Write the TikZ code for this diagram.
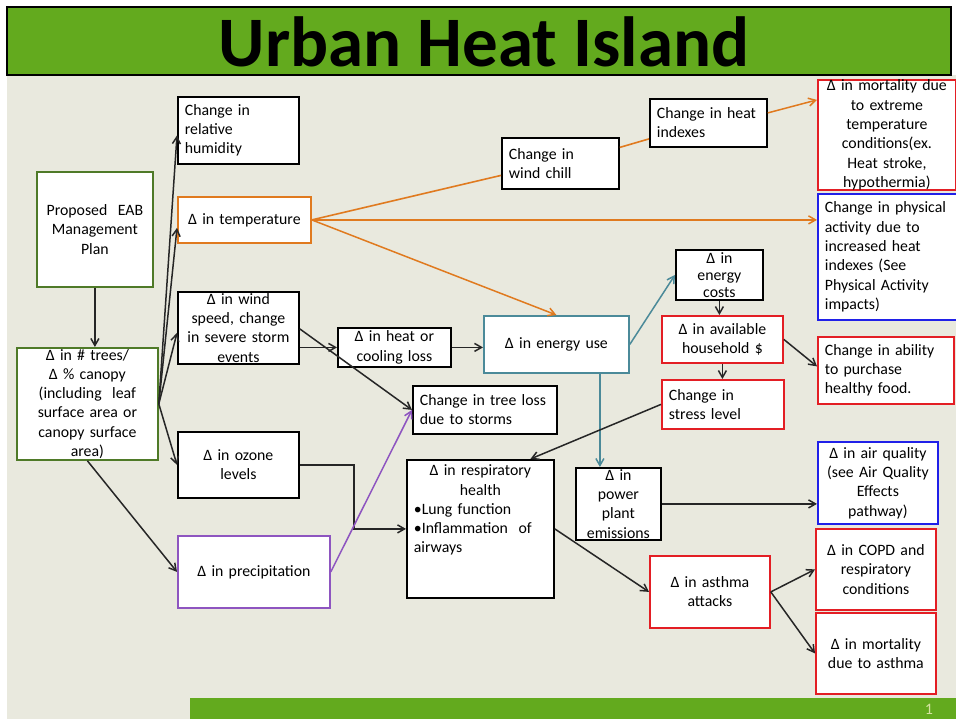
\documentclass[tikz,border=0pt]{standalone}
\usepackage{fontspec}
\setmainfont{Carlito}
\usepackage{tikz}
\usetikzlibrary{arrows.meta}

\definecolor{uhigreen}{HTML}{63AA1E}
\definecolor{slidebg}{HTML}{E9E9DE}
\definecolor{plangreen}{HTML}{4F7A28}
\definecolor{heatorange}{HTML}{E07A1F}
\definecolor{energyteal}{HTML}{4B8A99}
\definecolor{rainpurple}{HTML}{8E55C0}
\definecolor{healthred}{HTML}{E31E24}
\definecolor{linkblue}{HTML}{2020E8}
\definecolor{pagenum}{HTML}{D5E3A0}

\newcommand{\boxfont}{\fontsize{15.8}{19.3}\selectfont}

\begin{document}
\begin{tikzpicture}[
    x=1pt, y=-1pt,
    box/.style={rectangle, draw, fill=white, line width=1.8pt, anchor=north west, inner xsep=7pt, inner ysep=0pt, align=center, font=\boxfont},
    arrow/.style={-{Straight Barb[length=7pt,width=8pt]}, line width=1.5pt, black!85},
    link/.style={line width=1.6pt}
]
    \useasboundingbox (0,0) rectangle (956,719);

    % Slide background
    \fill[white] (0,0) rectangle (956,719);
    \fill[slidebg] (7,75) rectangle (956,719);
    \fill[uhigreen] (190,698) rectangle (956,719);
    \node[font=\fontsize{16}{16}\selectfont, text=pagenum] (pageno) at (929,709) {1};

    % Title
    \draw[fill=uhigreen, line width=2pt] (7,7) rectangle (951,75);
    \node[font=\fontsize{71}{71}\selectfont\bfseries, anchor=base] (title) at (484,67) {Urban Heat Island};

    % Management plan and canopy
    \node[box, draw=plangreen, text width=102pt, minimum height=115pt] (plan) at (36,171) {Proposed\ \ EAB\\Management\\Plan};
    \node[box, draw=plangreen, text width=127pt, minimum height=112pt] (trees) at (16,347) {Δ in \# trees/\\Δ \% canopy\\(including\ \ leaf\\surface area or\\canopy surface\\area)};

    % First effects
    \node[box, align=left, text width=107pt, minimum height=67pt] (humid) at (177,96) {Change in\\relative\\humidity};
    \node[box, draw=heatorange, text width=119pt, minimum height=46pt] (temp) at (177,196) {Δ in temperature};
    \node[box, text width=107pt, minimum height=72pt] (wind) at (177,291) {Δ in wind\\speed, change\\in severe storm\\events};
    \node[box, text width=107pt, minimum height=66pt] (ozone) at (177,431) {Δ in ozone\\levels};
    \node[box, draw=rainpurple, text width=138pt, minimum height=72pt] (precip) at (177,535) {Δ in precipitation};

    % Temperature chain
    \node[box, align=left, text width=103pt, minimum height=51pt] (chill) at (501,137) {Change in\\wind chill};
    \node[box, align=left, text width=103pt, minimum height=48pt] (heatidx) at (649,98) {Change in heat\\indexes};
    \node[box, draw=healthred, text width=124pt, minimum height=108pt] (mortext) at (817,79) {Δ in mortality due\\to extreme\\temperature\\conditions(ex.\\Heat stroke,\\hypothermia)};
    \node[box, draw=linkblue, align=left, text width=125pt, minimum height=126pt] (physact) at (817,193) {Change in physical\\activity due to\\increased heat\\indexes (See\\Physical Activity\\impacts)};

    % Energy chain
    \node[box, font={\fontsize{15.8}{17}\selectfont}, text width=73pt, minimum height=50pt] (ecost) at (675,249) {Δ in\\energy\\costs};
    \node[box, draw=energyteal, text width=131pt, minimum height=57pt] (euse) at (483,315) {Δ in energy use};
    \node[box, text width=99pt, minimum height=39pt] (hloss) at (337,327) {Δ in heat or\\cooling loss};
    \node[box, align=left, text width=130pt, minimum height=48pt] (treeloss) at (412,385) {Change in tree loss\\due to storms};
    \node[box, text width=71pt, minimum height=72pt] (power) at (575,467) {Δ in\\power\\plant\\emissions};
    \node[box, draw=healthred, text width=107pt, minimum height=47pt] (house) at (661,315) {Δ in available\\household \$};
    \node[box, draw=healthred, align=left, text width=108pt, minimum height=49pt] (stress) at (661,379) {Change in\\stress level};
    \node[box, draw=healthred, align=left, text width=122pt, minimum height=67pt] (food) at (817,336) {Change in ability\\to purchase\\healthy food.};

    % Health effects
    \node[box, text width=133pt, minimum height=138pt] (resp) at (406,459) {\parbox[b][128pt][t]{133pt}{{\centering Δ in respiratory\\health\par}{\raggedright •Lung function\\•Inflammation\ \ of\\airways\par}}};
    \node[box, draw=linkblue, text width=106pt, minimum height=82pt] (airq) at (817,441) {Δ in air quality\\(see Air Quality\\Effects\\pathway)};
    \node[box, draw=healthred, text width=106pt, minimum height=72pt] (asthma) at (649,555) {Δ in asthma\\attacks};
    \node[box, draw=healthred, text width=106pt, minimum height=81pt] (copd) at (815,528) {Δ in COPD and\\respiratory\\conditions};
    \node[box, draw=healthred, text width=106pt, minimum height=81pt] (mortasth) at (815,612) {Δ in mortality\\due to asthma};

    % Arrows from the plan
    \draw[arrow] (plan.south) -- (plan.south |- trees.north);
    \draw[arrow] (trees.east) -- ([yshift=-5pt]humid.west);
    \draw[arrow] (trees.east) -- ([yshift=-8pt]temp.west);
    \draw[arrow] (trees.east) -- ([yshift=-5pt]wind.west);
    \draw[arrow] (trees.east) -- (ozone.west);
    \draw[arrow] (trees.south) -- (precip.west);

    % Temperature arrows
    \draw[link, heatorange] (temp.east) -- ([yshift=-12pt]chill.west);
    \draw[link, heatorange] ([yshift=16pt]chill.east) -- ([yshift=-16pt]heatidx.west);
    \draw[arrow, heatorange] ([yshift=10pt]heatidx.east) -- ([yshift=35pt]mortext.west);
    \draw[arrow, heatorange] (temp.east) -- (temp.east -| physact.west);
    \draw[arrow, heatorange] (temp.east) -- (euse.north);

    % Wind arrows
    \draw[arrow] (wind.east |- hloss.west) -- (hloss.west);
    \draw[arrow] ([yshift=-1pt]wind.east) -- (treeloss.west);
    \draw[arrow] (hloss.east) -- (hloss.east -| euse.west);

    % Energy arrows
    \coordinate (tap) at ([xshift=43.5pt]euse.south);
    \draw[arrow, energyteal] (euse.east) -- (ecost.west);
    \draw[arrow, energyteal] (tap) -- (tap |- power.north);
    \draw[arrow] (ecost.south) -- (ecost.south |- house.north);
    \draw[arrow] (house.south) -- (house.south |- stress.north);
    \draw[arrow] (house.east) -- ([yshift=4pt]food.west);
    \draw[arrow] (stress.west) -- ([xshift=50pt]resp.north);

    % Ozone and precipitation
    \draw[arrow] (ozone.east) -- ++(54,0) |- (resp.west);
    \draw[arrow, rainpurple] (precip.east) -- (treeloss.west);

    % Health arrows
    \draw[arrow] (resp.east) -- (asthma.west);
    \draw[arrow] (power.east) -- (power.east -| airq.west);
    \draw[arrow] (asthma.east) -- (copd.west);
    \draw[arrow] (asthma.east) -- (mortasth.west);
\end{tikzpicture}
\end{document}
